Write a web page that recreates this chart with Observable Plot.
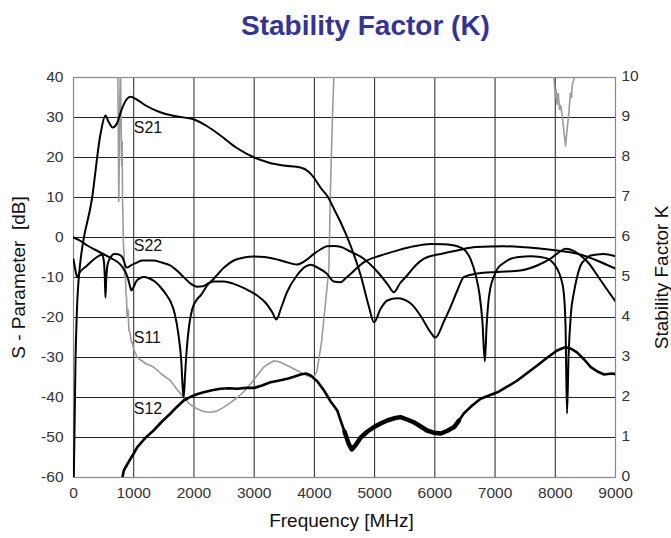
<!DOCTYPE html>
<html>
<head>
<meta charset="utf-8">
<script src="https://cdn.jsdelivr.net/npm/d3@7"></script>
<script src="https://cdn.jsdelivr.net/npm/@observablehq/plot@0.6"></script>
<style>
  html, body { margin: 0; padding: 0; background: #fff; }
  #title { height: 50px; line-height: 52px; text-align: center; font-family: "Liberation Sans", Arial, sans-serif;
           font-weight: bold; font-size: 28px; color: #333399; width: 671px; padding-left: 60px; box-sizing: border-box; }
</style>
</head>
<body>
<div id="title">Stability Factor (K)</div>
<div id="chart"></div>
<script>
// Frequency ticks [MHz] and dB ticks
const xTicks = [0, 1000, 2000, 3000, 4000, 5000, 6000, 7000, 8000, 9000];
const yTicks = [-60, -50, -40, -30, -20, -10, 0, 10, 20, 30, 40];
const kTicks = [0, 1, 2, 3, 4, 5, 6, 7, 8, 9, 10];

// S21 [MHz, dB]
const s21 = [[5,-60],[15,-50],[33,-31],[55,-19],[88,-10],[310,10],[450,26],[530,30.5],[580,29],[650,27.5],[720,28.5],[800,32],[880,34.5],[950,35.2],[1050,34.5],[1200,33],[1440,31.3],[1700,30.3],[2000,29.5],[2200,28],[2440,25.5],[2700,22.5],[3000,20],[3250,18.7],[3490,18],[3770,17.5],[3900,16.5],[3990,15],[4100,12.5],[4230,10],[4330,7],[4430,4],[4600,-2],[4770,-9.5],[4900,-17],[4990,-21.2],[5100,-17.8],[5210,-15.75],[5375,-15.2],[5600,-16.5],[5760,-19.5],[5930,-23.7],[6010,-25],[6150,-21],[6260,-17.4],[6380,-13],[6480,-9.9],[6700,-9],[7040,-8.6],[7420,-8.25],[7700,-7],[7920,-5.3],[8080,-3.5],[8170,-2.8],[8250,-3],[8420,-4.5],[8560,-6.5],[8700,-9.5],[8850,-12.8],[9000,-16]];

// S11 [MHz, dB]
const s11 = [[0,0],[100,-0.7],[230,-2],[350,-3],[480,-4],[600,-5],[700,-5.8],[780,-6.8],[850,-8.3],[900,-10],[940,-12.3],[960,-13.2],[990,-12.6],[1040,-11],[1100,-10.2],[1170,-9.9],[1250,-10.2],[1350,-11],[1450,-12.5],[1550,-14.5],[1610,-16],[1680,-19],[1740,-24],[1790,-31],[1815,-38],[1830,-40],[1850,-35],[1880,-28],[1920,-22],[1970,-18],[2050,-15.5],[2110,-14.5],[2220,-12],[2330,-10.3],[2500,-7.5],[2660,-5.75],[2830,-5],[3000,-4.75],[3170,-4.9],[3330,-5.3],[3500,-6],[3710,-6.75],[3850,-5.8],[3990,-4.1],[4100,-3],[4210,-2.2],[4330,-2.1],[4430,-2.3],[4600,-3.5],[4820,-5.3],[5000,-7.8],[5100,-9.5],[5220,-11.8],[5320,-13.7],[5420,-11.5],[5540,-9.5],[5680,-7],[5820,-5.3],[6000,-4.4],[6100,-4.1],[6370,-3.25],[6680,-2.4],[7145,-2.2],[7700,-2.7],[8030,-3.25],[8250,-3.7],[8470,-4.5],[8700,-5.8],[9000,-7.8]];

// S22 [MHz, dB]
const s22 = [[0,-5.5],[30,-8],[60,-9.9],[100,-8.8],[227,-7],[350,-5.3],[476,-4.3],[505,-6],[520,-10],[530,-15],[545,-10],[570,-6.5],[615,-5],[670,-4.1],[740,-4.2],[810,-4.9],[840,-6],[870,-7.3],[900,-7.5],[950,-7],[1060,-6.2],[1140,-5.75],[1330,-5.75],[1450,-6.2],[1610,-7],[1720,-8.3],[1830,-9.9],[1950,-11.6],[2050,-12.3],[2150,-12.2],[2220,-11.6],[2330,-11],[2500,-11],[2660,-11.6],[2850,-12.8],[3050,-14.5],[3200,-16.5],[3300,-18.7],[3370,-20.5],[3450,-17.5],[3550,-13.5],[3710,-9.5],[3850,-7.3],[3940,-6.8],[4050,-7.5],[4210,-9.1],[4320,-11],[4430,-11.2],[4520,-10.2],[4600,-9.1],[4820,-6.2],[5100,-4.5],[5375,-3.25],[5650,-2.2],[5930,-1.6],[6150,-1.7],[6370,-2.2],[6500,-3.2],[6590,-5.3],[6680,-9.5],[6740,-14],[6790,-21],[6830,-31],[6860,-22],[6890,-16],[6920,-12.8],[6980,-9.8],[7040,-7.8],[7150,-6.3],[7260,-5.3],[7400,-4.9],[7590,-4.7],[7750,-4.9],[7870,-5.3],[7960,-6.3],[8030,-7.8],[8100,-10.5],[8140,-13.7],[8170,-22],[8195,-44],[8220,-30],[8260,-19],[8310,-13.7],[8360,-10],[8420,-7],[8500,-5.5],[8585,-4.5],[8800,-4.1],[9000,-4.7]];

// S12 [MHz, dB]
const s12 = [[800,-61],[835,-58.25],[900,-56.5],[1000,-54],[1060,-52.4],[1200,-50],[1330,-48.25],[1470,-46],[1610,-44],[1720,-42.3],[1830,-40.75],[1950,-39.8],[2050,-39.2],[2160,-38.7],[2300,-38.2],[2440,-37.8],[2580,-37.7],[2720,-37.8],[2860,-37.6],[3000,-37.6],[3130,-37],[3270,-36.2],[3400,-35.8],[3550,-35.3],[3660,-34.8],[3770,-34.25],[3860,-34],[3940,-34.5],[4050,-36],[4160,-38.25],[4270,-41],[4380,-43.25],[4430,-45.5],[4500,-48.5],[4570,-51.6],[4620,-53],[4680,-52],[4770,-50],[4880,-48.5],[4990,-47.4],[5100,-46.5],[5210,-45.75],[5320,-45.2],[5430,-44.9],[5540,-45.5],[5650,-46.2],[5760,-47.2],[5870,-48.25],[5980,-48.8],[6100,-49],[6210,-48.3],[6320,-47.4],[6400,-45.8],[6480,-44],[6620,-42],[6760,-40.3],[6900,-39.5],[7040,-38.7],[7200,-37.3],[7370,-35.75],[7540,-33.8],[7700,-32],[7870,-30],[8030,-28.25],[8100,-27.8],[8170,-27.4],[8260,-27.8],[8360,-28.7],[8480,-30.5],[8590,-32.4],[8700,-33.5],[8810,-34.25],[8945,-34],[9000,-34.2]];
// frequency range where the S12 trace is visibly noisy (drawn as a wider band)
const s12NoisyRange = [4450, 6450];

// Stability factor K [MHz, K] (NaN = off the top of the chart)
const kFactor = [[735,10.3],[745,8.5],[752,6.9],[760,8.0],[770,9.5],[780,10.3],[790,9.0],[800,7.8],[808,8.4],[815,6.9],[822,6.4],[830,5.8],[840,5.6],[850,5.0],[860,5.3],[870,4.6],[880,4.5],[890,4.0],[905,4.2],[920,3.7],[940,3.6],[960,3.4],[980,3.35],[1000,3.2],[1060,3.0],[1150,2.9],[1200,2.85],[1330,2.76],[1450,2.6],[1610,2.42],[1720,2.2],[1830,2.0],[1940,1.82],[2050,1.72],[2160,1.65],[2270,1.63],[2380,1.66],[2500,1.76],[2610,1.88],[2720,2.0],[2830,2.15],[2940,2.34],[3050,2.55],[3160,2.76],[3250,2.85],[3330,2.92],[3440,2.88],[3550,2.8],[3680,2.7],[3820,2.59],[3920,2.52],[3990,2.5],[4040,2.65],[4070,2.92],[4120,3.4],[4160,4.0],[4200,4.6],[4240,5.2],[4270,7.4],[4300,9.0],[4330,10.3],[6000,NaN],[7960,10.3],[7980,9.96],[8000,9.5],[8015,9.7],[8030,9.33],[8050,9.6],[8070,9.2],[8090,9.3],[8115,9.04],[8140,8.7],[8170,8.29],[8190,8.6],[8210,8.9],[8225,9.1],[8250,9.6],[8270,9.5],[8280,9.8],[8310,9.96],[8340,10.3]];

// Curve labels
const labels = [
  {name: "S21", f: 1000, db: 27.5},
  {name: "S22", f: 1000, db: -2},
  {name: "S11", f: 1000, db: -25},
  {name: "S12", f: 1000, db: -42.75}
];

const kToDb = k => k * 10 - 60;

const chart = Plot.plot({
  width: 671,
  height: 488,
  marginTop: 27,
  marginBottom: 61,
  marginLeft: 73,
  marginRight: 56,
  style: {fontFamily: "'Liberation Sans', Arial, sans-serif", background: "#fff"},
  x: {domain: [0, 9000], axis: null},
  y: {domain: [-60, 40], axis: null},
  marks: [
    Plot.gridX(xTicks, {stroke: "#222", strokeOpacity: 1, strokeWidth: 1}),
    Plot.gridY(yTicks, {stroke: "#222", strokeOpacity: 1, strokeWidth: 1}),
    Plot.frame({stroke: "#888", strokeWidth: 1.2}),
    Plot.axisX(xTicks, {anchor: "bottom", tickSize: 0, tickPadding: 9, fontSize: 15.5, fill: "#333", label: null, tickFormat: d => String(d)}),
    Plot.axisY(yTicks, {anchor: "left", tickSize: 0, tickPadding: 10, fontSize: 15.5, fill: "#333", label: null, tickFormat: d => String(d)}),
    Plot.axisY(yTicks, {anchor: "right", tickSize: 0, tickPadding: 6, fontSize: 15.5, fill: "#333", label: null, dy: -1, tickFormat: d => String((d + 60) / 10)}),
    Plot.line(kFactor, {x: d => d[0], y: d => kToDb(d[1]), stroke: "#9a9a9a", strokeWidth: 1.6, clip: true}),
    Plot.line(s21, {x: d => d[0], y: d => d[1], stroke: "#000", strokeWidth: 2, curve: "monotone-x", clip: true}),
    Plot.line(s11, {x: d => d[0], y: d => d[1], stroke: "#000", strokeWidth: 2, curve: "monotone-x", clip: true}),
    Plot.line(s22, {x: d => d[0], y: d => d[1], stroke: "#000", strokeWidth: 2, curve: "monotone-x", clip: true}),
    Plot.line(s12, {x: d => d[0], y: d => d[1], stroke: "#000", strokeWidth: 2.6, clip: true}),
    Plot.line(s12.filter(d => d[0] >= s12NoisyRange[0] && d[0] <= s12NoisyRange[1]), {x: d => d[0], y: d => d[1], stroke: "#000", strokeWidth: 4.5, clip: true}),
    Plot.text(labels, {x: "f", y: "db", text: "name", textAnchor: "start", dx: 0, fontSize: 16, fill: "#111"}),
    Plot.text(["S - Parameter  [dB]"], {frameAnchor: "left", textAnchor: "middle", dx: -55, rotate: -90, fontSize: 19, fill: "#111"}),
    Plot.text(["Stability Factor K"], {frameAnchor: "right", textAnchor: "middle", dx: 46, rotate: -90, fontSize: 19, fill: "#111"}),
    Plot.text(["Frequency [MHz]"], {frameAnchor: "bottom", textAnchor: "middle", dy: 49, dx: -3, fontSize: 19, fill: "#111"})
  ]
});
document.getElementById("chart").appendChild(chart);
</script>
</body>
</html>
